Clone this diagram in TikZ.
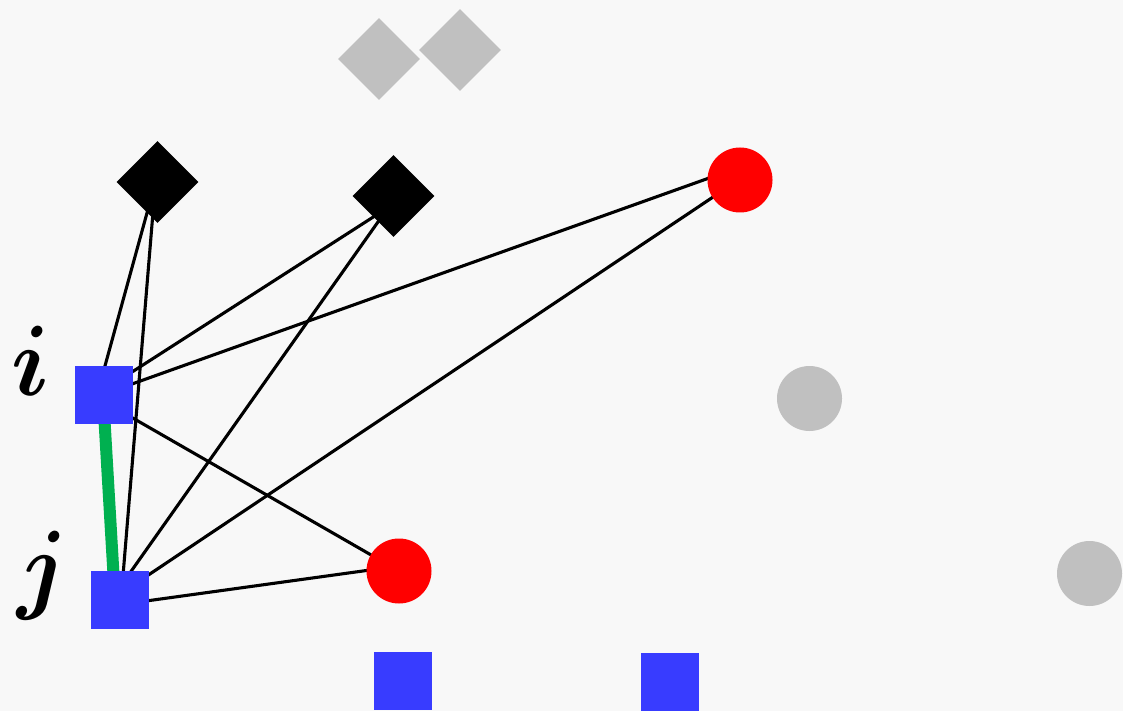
\documentclass[tikz,border=0pt]{standalone}
\usepackage{fontspec}
\usepackage{bm}
\usetikzlibrary{shapes.geometric}
\pgfdeclarelayer{bg}
\pgfsetlayers{bg,main}
\definecolor{bgc}{HTML}{F8F8F8}
\definecolor{sqblue}{RGB}{56,60,255}
\definecolor{dotred}{HTML}{FF0000}
\definecolor{ghost}{HTML}{C0C0C0}
\definecolor{linkgreen}{HTML}{00B050}
\tikzset{
  sq/.style={rectangle, fill=sqblue, minimum size=58pt, inner sep=0pt},
  dia/.style={diamond, aspect=1, minimum width=82pt, minimum height=82pt, inner sep=0pt},
  blackdia/.style={dia, fill=black},
  greydia/.style={dia, fill=ghost},
  rdot/.style={circle, fill=dotred, minimum size=65pt, inner sep=0pt},
  gdot/.style={circle, fill=ghost, minimum size=65pt, inner sep=0pt},
  edge/.style={draw=black, line width=3.1pt},
  hl/.style={draw=linkgreen, line width=12pt},
  lbl/.style={font=\fontsize{10}{12}\selectfont, xscale=9.4, yscale=10, inner sep=0pt, anchor=base}
}
\begin{document}
\begin{tikzpicture}[x=1pt,y=-1pt]
\begin{pgfonlayer}{bg}
\fill[bgc] (0,0) rectangle (1123,711);
\end{pgfonlayer}
\useasboundingbox (0,0) rectangle (1123,711);
% nodes
\node[sq] (i) at (104,395) {};
\node[sq] (j) at (120,600) {};
\node[sq] (b1) at (403,681) {};
\node[sq] (b2) at (670,682) {};
\node[blackdia] (d1) at (157.5,182) {};
\node[blackdia] (d2) at (393.5,196) {};
\node[greydia] (g1) at (379,59) {};
\node[greydia] (g2) at (460,50) {};
\node[rdot] (r1) at (740,180) {};
\node[rdot] (r2) at (399,571) {};
\node[gdot] (c1) at (809.5,398.5) {};
\node[gdot] (c2) at (1089.5,573.5) {};
\node[lbl] (li) at (31,395) {$\bm{i}$};
\node[lbl] (lj) at (43,600) {$\bm{j}$};
% connectors
\begin{pgfonlayer}{bg}
\draw[edge] ([shift={(-2,0)}]d1.center) -- ([shift={(-7,0)}]i.center);
\draw[edge] ([shift={(-2,0)}]d1.center) -- ([shift={(1,0)}]j.center);
\draw[edge] ([shift={(0,8)}]d2.center) -- ([shift={(0,-5)}]i.center);
\draw[edge] ([shift={(0,4)}]d2.center) -- ([shift={(0,-13)}]j.center);
\draw[edge] ([shift={(0,-13)}]r1.center) -- ([shift={(0,-1)}]i.center);
\draw[edge] ([shift={(0,-1)}]r1.center) -- ([shift={(0,-6)}]j.center);
\draw[edge] ([shift={(0,6.5)}]i.center) -- (r2.center);
\draw[edge] ([shift={(0,4.6)}]j.center) -- ([shift={(0,-5)}]r2.center);
\draw[hl] ([shift={(-1,0)}]i.center) -- ([shift={(-5,0)}]j.center);
\end{pgfonlayer}
\end{tikzpicture}
\end{document}
